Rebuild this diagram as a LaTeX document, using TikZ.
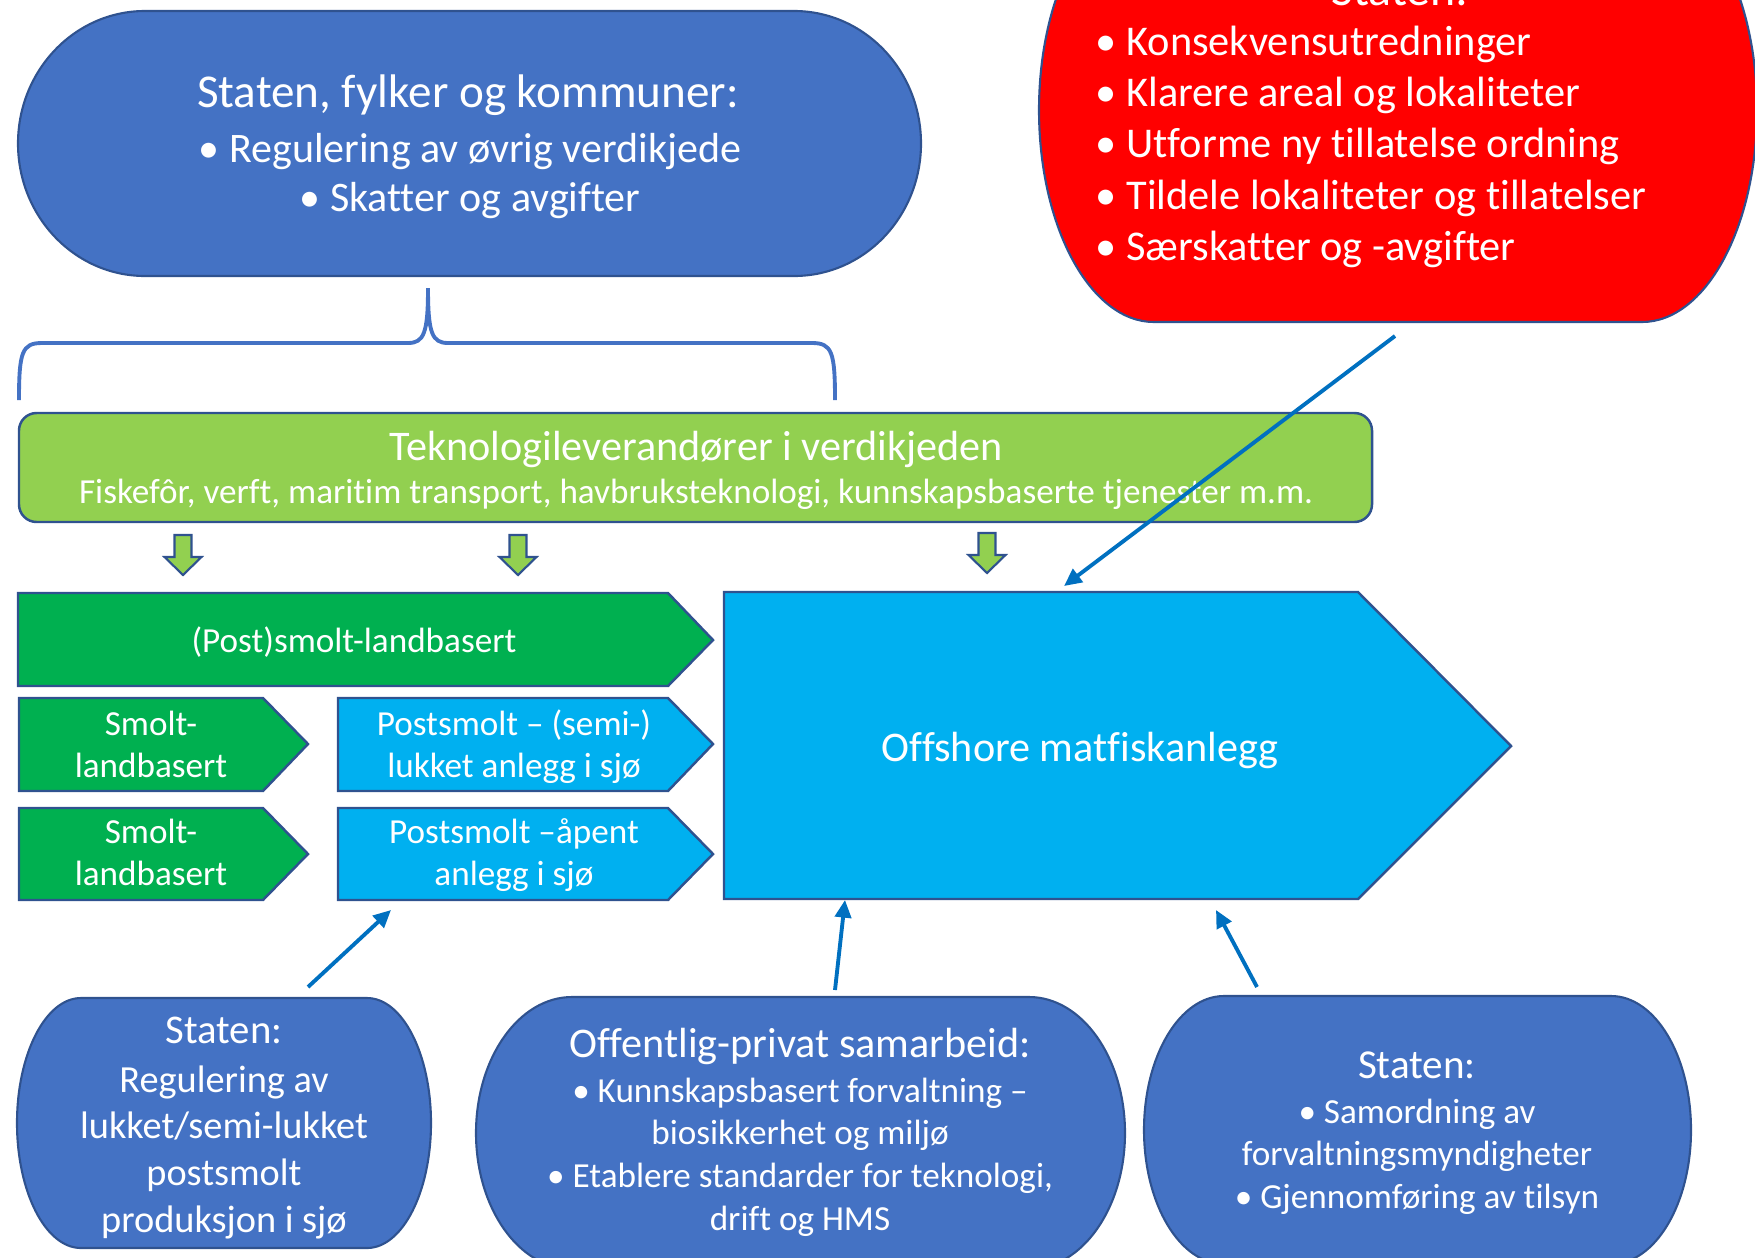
\documentclass[tikz,border=0pt]{standalone}
\usepackage{fontspec}
\setmainfont{Carlito}[Ligatures={NoCommon}]
\usetikzlibrary{arrows.meta}
\definecolor{pillblue}{HTML}{4472C4}
\definecolor{edgeblue}{HTML}{2F528F}
\definecolor{redfill}{HTML}{FF0000}
\definecolor{limegreen}{HTML}{92D050}
\definecolor{chevgreen}{HTML}{00B050}
\definecolor{chevblue}{HTML}{00B0F0}
\definecolor{linkblue}{HTML}{0070C0}

% pill with elliptical ends: style, x1, y1, x2, y2, rx
\newcommand{\pillshape}[6]{%
 \pgfmathsetmacro\PLa{#2+#6}%
 \pgfmathsetmacro\PLb{#4-#6}%
 \pgfmathsetmacro\PLm{(#3+#5)/2}%
 \pgfmathsetmacro\PLk{0.5523*#6}%
 \pgfmathsetmacro\PLky{0.5523*(#5-#3)/2}%
 \path[#1] (\PLa,#3) -- (\PLb,#3)
   .. controls (\PLb+\PLk,#3) and (#4,\PLm-\PLky) .. (#4,\PLm)
   .. controls (#4,\PLm+\PLky) and (\PLb+\PLk,#5) .. (\PLb,#5)
   -- (\PLa,#5)
   .. controls (\PLa-\PLk,#5) and (#2,\PLm+\PLky) .. (#2,\PLm)
   .. controls (#2,\PLm-\PLky) and (\PLa-\PLk,#3) .. cycle;
}
% green block arrow pointing down: centre x, top y
\newcommand{\downblock}[2]{%
 \draw[downarr] (#1-8.5,#2) -- (#1+8.5,#2) -- (#1+8.5,#2+22) -- (#1+18.5,#2+22)
   -- (#1,#2+40) -- (#1-18.5,#2+22) -- (#1-8.5,#2+22) -- cycle;
}

\tikzset{
 pill/.style={fill=pillblue, draw=edgeblue, line width=0.6pt},
 redpill/.style={fill=redfill, draw=edgeblue, line width=0.6pt},
 chevG/.style={fill=chevgreen, draw=edgeblue, line width=0.7pt},
 chevB/.style={fill=chevblue, draw=edgeblue, line width=0.7pt},
 downarr/.style={fill=limegreen, draw=edgeblue, line width=0.6pt},
 techbar/.style={fill=limegreen, draw=edgeblue, line width=0.7pt, rounded corners=5pt},
 bracestyle/.style={draw=pillblue, line width=1.1pt},
 link/.style={draw=linkblue, line width=1.1pt, -{Triangle[length=5pt,width=4.6pt]}},
 wtext/.style={text=white, inner sep=0pt, anchor=base},
}

\begin{document}
\begin{tikzpicture}[x=0.01cm, y=-0.01cm]
\useasboundingbox (0,0) rectangle (1755,1257);
\clip (0,0) rectangle (1755,1257);

% ---- top blue pill
\pillshape{pill}{18}{11}{921}{276}{127}
\node[wtext, font=\fontsize{13.4}{16}\selectfont] (topT) at (468,107) {Staten, fylker og kommuner:};
\node[wtext, font=\fontsize{11.95}{14.2}\selectfont] (topB) at (470,162)
  {\begin{tabular}[t]{@{}c@{}}• Regulering av øvrig verdikjede\\ • Skatter og avgifter\end{tabular}};

% ---- red shape (cut by the page)
\pillshape{redpill}{1039}{-102}{1757}{322}{115}
\node[wtext, font=\fontsize{13.6}{16}\selectfont] (redT) at (1400,5) {Staten:};
\node[wtext, anchor=base west, font=\fontsize{12.05}{14.6}\selectfont] (redB) at (1095,55)
  {\begin{tabular}[t]{@{}l@{}}• Konsekvensutredninger\\ • Klarere areal og lokaliteter\\
   • Utforme ny tillatelse ordning\\ • Tildele lokaliteter og tillatelser\\ • Særskatter og -avgifter\end{tabular}};

% ---- brace
\draw[bracestyle] (19,400) .. controls (19,352) and (22,343) .. (42,343) -- (408,343)
  .. controls (424,343) and (428,333) .. (428,288)
  .. controls (428,333) and (432,343) .. (448,343) -- (812,343)
  .. controls (832,343) and (835,352) .. (835,400);

% ---- technology bar
\draw[techbar] (19,413) rectangle (1372,522);
\node[wtext, font=\fontsize{12}{14}\selectfont] (techT) at (696,460) {Teknologileverandører i verdikjeden};
\node[wtext, font=\fontsize{10}{12}\selectfont] (techB) at (696,503) {Fiskefôr, verft, maritim transport, havbruksteknologi, kunnskapsbaserte tjenester m.m.};

% ---- green down arrows
\downblock{183}{535}
\downblock{518}{535}
\downblock{987}{533}

% ---- chevrons
\draw[chevG] (18,593) -- (668,593) -- (713,640) -- (668,686) -- (18,686) -- cycle;
\node[wtext, font=\fontsize{10}{12}\selectfont] (post) at (354,652) {(Post)smolt-landbasert};

\draw[chevG] (19,698) -- (263,698) -- (308,744) -- (263,791) -- (19,791) -- cycle;
\node[wtext, font=\fontsize{10}{11.95}\selectfont] (smoltA) at (151,735)
  {\begin{tabular}[t]{@{}c@{}}Smolt-\\landbasert\end{tabular}};
\draw[chevG] (19,808) -- (263,808) -- (308,854) -- (263,900) -- (19,900) -- cycle;
\node[wtext, font=\fontsize{10}{11.95}\selectfont] (smoltB) at (151,843)
  {\begin{tabular}[t]{@{}c@{}}Smolt-\\landbasert\end{tabular}};

\draw[chevB] (338,698) -- (668,698) -- (713,744) -- (668,791) -- (338,791) -- cycle;
\node[wtext, font=\fontsize{10}{11.95}\selectfont] (psA) at (514,735)
  {\begin{tabular}[t]{@{}c@{}}Postsmolt – (semi-)\\lukket anlegg i sjø\end{tabular}};
\draw[chevB] (338,808) -- (668,808) -- (713,854) -- (668,900) -- (338,900) -- cycle;
\node[wtext, font=\fontsize{10}{11.95}\selectfont] (psB) at (514,843)
  {\begin{tabular}[t]{@{}c@{}}Postsmolt –åpent\\anlegg i sjø\end{tabular}};

\draw[chevB] (724,592) -- (1358,592) -- (1511,746) -- (1358,899) -- (724,899) -- cycle;
\node[wtext, font=\fontsize{12}{14}\selectfont] (offshore) at (1080,761) {Offshore matfiskanlegg};

% ---- bottom pills
\pillshape{pill}{17}{998}{431}{1248}{64}
\node[wtext, font=\fontsize{11.6}{14}\selectfont] (blT) at (224,1043) {Staten:};
\node[wtext, font=\fontsize{10.9}{13.28}\selectfont] (blB) at (224,1092)
  {\begin{tabular}[t]{@{}c@{}}Regulering av\\ lukket/semi-lukket\\ postsmolt\\ produksjon i sjø\end{tabular}};

\pillshape{pill}{476}{997}{1125}{1269}{96}
\node[wtext, font=\fontsize{12}{14}\selectfont] (midT) at (800,1057) {Offentlig-privat samarbeid:};
\node[wtext, font=\fontsize{10}{12.15}\selectfont] (midB) at (800,1102)
  {\begin{tabular}[t]{@{}c@{}}• Kunnskapsbasert forvaltning –\\ biosikkerhet og miljø\\
   • Etablere standarder for teknologi,\\ drift og HMS\end{tabular}};

\pillshape{pill}{1144}{996}{1691}{1264}{80}
\node[wtext, font=\fontsize{11.7}{14}\selectfont] (brT) at (1417,1078) {Staten:};
\node[wtext, font=\fontsize{10}{12.1}\selectfont] (brB) at (1417,1123)
  {\begin{tabular}[t]{@{}c@{}}• Samordning av\\ forvaltningsmyndigheter\\ • Gjennomføring av tilsyn\end{tabular}};

% ---- connectors
\coordinate (redS) at (1395,336);
\coordinate (offTop) at (1064,586);
\coordinate (blS) at (308,987);
\coordinate (psBot) at (391,910);
\coordinate (midS) at (835,990);
\coordinate (offBotA) at (845,900);
\coordinate (brS) at (1257,987);
\coordinate (offBotB) at (1216,910);
\draw[link] (redS) -- (offTop);
\draw[link] (blS) -- (psBot);
\draw[link] (midS) -- (offBotA);
\draw[link] (brS) -- (offBotB);
\end{tikzpicture}
\end{document}
